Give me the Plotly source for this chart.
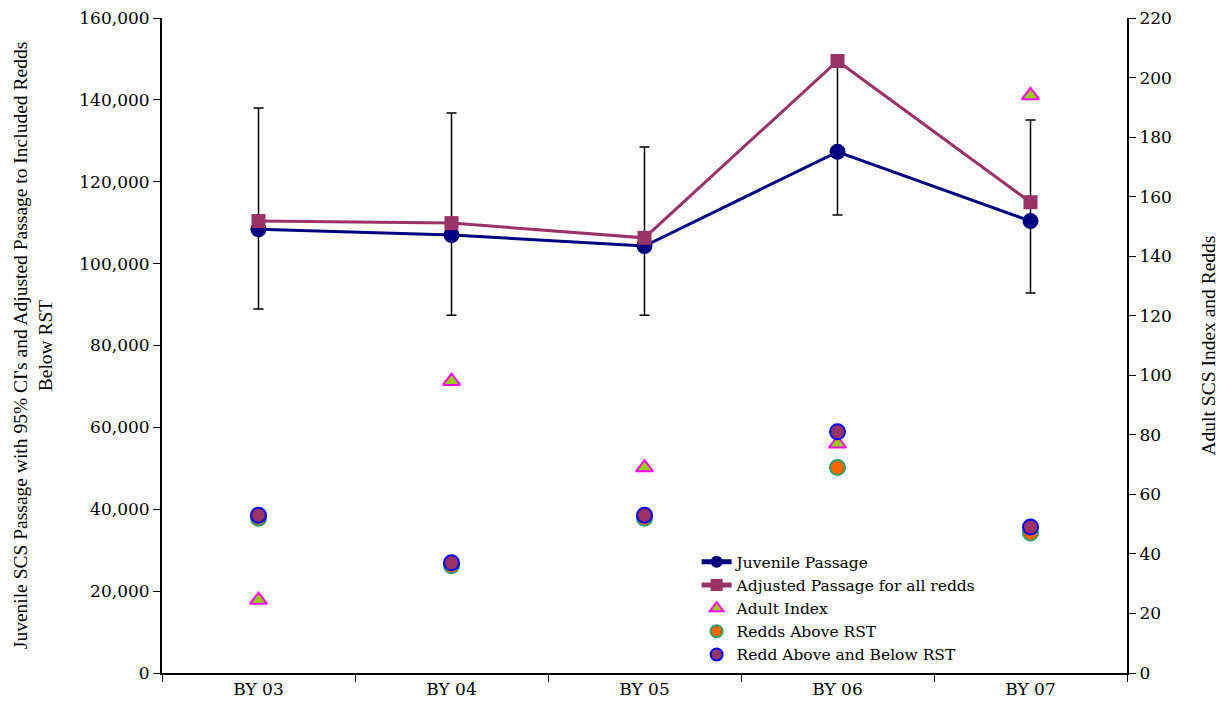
import plotly.graph_objects as go

years = ["BY 03", "BY 04", "BY 05", "BY 06", "BY 07"]
juvenile = [108400, 107000, 104300, 127300, 110400]
ci_upper = [138000, 136800, 128500, 148500, 135100]
ci_lower = [88900, 87400, 87400, 111900, 92800]
adjusted = [110400, 109900, 106300, 149500, 115000]
adult_index = [24.5, 98, 69, 77, 194]
redds_above = [52, 36, 52, 69, 47]
redds_above_below = [53, 37, 53, 81, 49]

err_plus = [u - j for u, j in zip(ci_upper, juvenile)]
err_minus = [j - l for j, l in zip(juvenile, ci_lower)]

tick_font = "DejaVu Serif, serif"
title_font = "Liberation Serif, Times New Roman, serif"

fig = go.Figure()
fig.add_trace(go.Scatter(
    x=years, y=juvenile, name="Juvenile Passage", mode="lines+markers",
    line=dict(color="#000080", width=3),
    marker=dict(symbol="circle", size=16, color="#000080"),
    error_y=dict(type="data", array=err_plus, arrayminus=err_minus,
                 color="black", thickness=1.5, width=5),
))
fig.add_trace(go.Scatter(
    x=years, y=adjusted, name="Adjusted Passage for all redds", mode="lines+markers",
    line=dict(color="#993366", width=3),
    marker=dict(symbol="square", size=14, color="#993366"),
))
fig.add_trace(go.Scatter(
    x=years, y=adult_index, name="Adult Index", mode="markers", yaxis="y2",
    marker=dict(symbol="triangle-up", size=15, color="#99CC00",
                line=dict(color="#FF00FF", width=2)),
))
fig.add_trace(go.Scatter(
    x=years, y=redds_above, name="Redds Above RST", mode="markers", yaxis="y2",
    marker=dict(symbol="circle", size=15, color="#FF6600",
                line=dict(color="#339966", width=2)),
))
fig.add_trace(go.Scatter(
    x=years, y=redds_above_below, name="Redd Above and Below RST", mode="markers", yaxis="y2",
    marker=dict(symbol="circle", size=15, color="#993366",
                line=dict(color="#0000FF", width=2)),
))

fig.update_layout(
    width=1222, height=712,
    margin=dict(l=162, r=95, t=18, b=39),
    paper_bgcolor="white", plot_bgcolor="white",
    font=dict(family=tick_font, size=17, color="black"),
    showlegend=True,
    legend=dict(x=0.554, y=0.195, xanchor="left", yanchor="top",
                bgcolor="rgba(0,0,0,0)", font=dict(family=tick_font, size=15.5),
                tracegroupgap=0, itemsizing="constant"),
    xaxis=dict(
        type="category", tickson="boundaries", ticks="outside", ticklen=7,
        tickcolor="black", showline=True, linecolor="black", linewidth=1.5,
        showgrid=False, tickfont=dict(size=17), range=[-0.5, 4.5],
        automargin=False,
    ),
    yaxis=dict(
        range=[0, 160000], dtick=20000, tickformat=",d", ticks="outside",
        ticklen=7, tickcolor="black", showline=True, linecolor="black",
        linewidth=2, showgrid=False, zeroline=False, tickfont=dict(size=17),
        automargin=False,
        title=dict(text="Juvenile SCS Passage with 95% CI's and Adjusted Passage to Included Redds<br>Below RST",
                   font=dict(family=title_font, size=19.5), standoff=21),
    ),
    yaxis2=dict(
        overlaying="y", side="right", range=[0, 220], dtick=20,
        ticks="outside", ticklen=7, tickcolor="black", showline=True,
        linecolor="black", linewidth=2, showgrid=False, zeroline=False,
        tickfont=dict(size=17), automargin=False,
        title=dict(text="Adult SCS Index and Redds",
                   font=dict(family=title_font, size=19.5), standoff=30),
    ),
)

fig.write_html("out.html")
